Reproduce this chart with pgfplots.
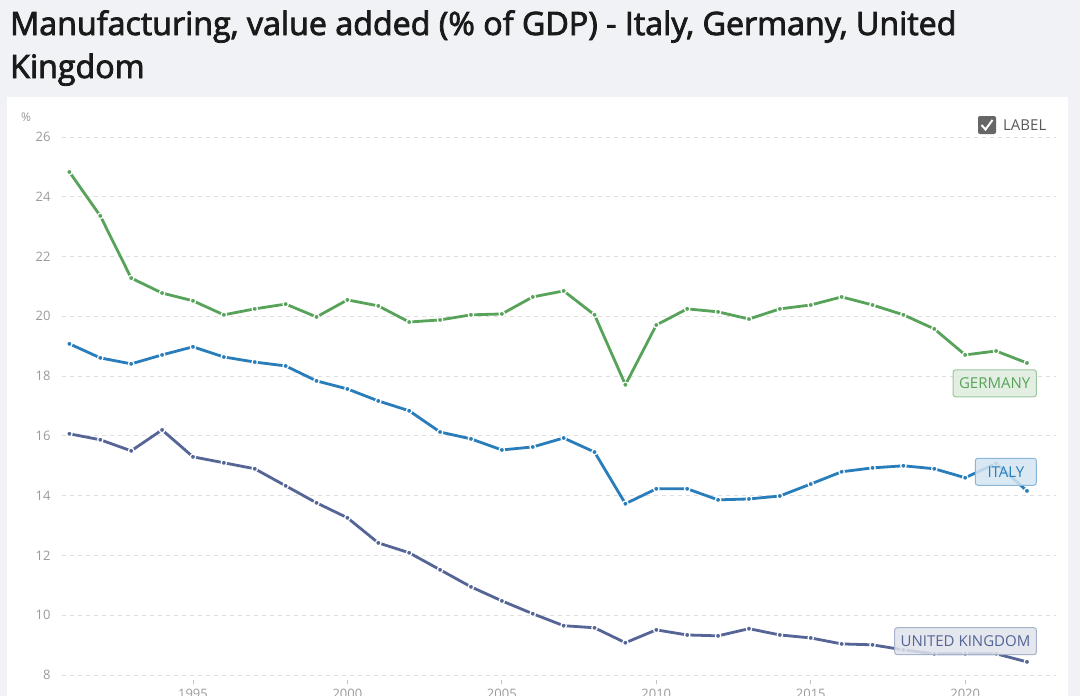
\documentclass[border=0pt]{standalone}
\usepackage{pgfplots}
\pgfplotsset{compat=1.18}
\usepackage{fontspec}
\setmainfont{Open Sans}
\newfontfamily\titlefont{Open Sans}[FakeBold=2.5]
\definecolor{bg}{HTML}{F0F2F5}
\definecolor{titlecol}{HTML}{1A1A1A}
\definecolor{gridcol}{HTML}{DEDEDE}
\definecolor{tickcol}{HTML}{9A9A9A}
\definecolor{de}{RGB}{88,163,90}
\definecolor{it}{RGB}{40,125,186}
\definecolor{uk}{RGB}{84,101,150}

\begin{document}
\begin{tikzpicture}
\useasboundingbox (0,0) rectangle (1080pt,-696pt);
\clip (0,0) rectangle (1080pt,-696pt);
\fill[bg] (0,0) rectangle (1080pt,-696pt);
\fill[white] (7pt,-97pt) rectangle (1068pt,-700pt);
% title
\node[anchor=base west, inner sep=0, text=titlecol, font=\titlefont\fontsize{32.2}{32.2}\selectfont] at (10pt,-35pt) {Manufacturing, value added (\% of GDP) - Italy, Germany, United};
\node[anchor=base west, inner sep=0, text=titlecol, font=\titlefont\fontsize{32.2}{32.2}\selectfont] at (10pt,-78pt) {Kingdom};
% unit and label toggle
\node[anchor=base west, inner sep=0, text=tickcol, font=\fontsize{12}{12}\selectfont] at (21pt,-121pt) {\%};
\fill[black!60, rounded corners=2pt] (978pt,-116pt) rectangle (996pt,-134pt);
\draw[white, line width=2pt] (981.5pt,-125pt) -- (985.5pt,-129.5pt) -- (992.5pt,-120pt);
\node[anchor=west, inner sep=0, text=black!65, font=\fontsize{15}{15}\selectfont] at (1003pt,-125pt) {LABEL};

\begin{axis}[
  at={(62pt,-675pt)}, anchor=south west,
  scale only axis, width=994pt, height=538pt,
  xmin=1990.76, xmax=2022.94, ymin=8, ymax=26,
  axis x line*=bottom, axis y line*=left,
  axis line style={draw=none},
  xtick={1995,2000,...,2020},
  ytick={8,10,...,26},
  ymajorgrids,
  grid style={gridcol, line width=1pt, dash pattern=on 4pt off 4pt},
  y tick style={draw=none},
  x tick style={draw=tickcol!60, line width=0.8pt, yshift=-5pt},
  major tick length=4pt, tick align=outside,
  tick label style={font=\fontsize{13}{13}\selectfont, text=tickcol},
  yticklabel style={xshift=-4pt},
  xticklabel style={yshift=-7pt},
  /pgf/number format/1000 sep={},
  /pgf/number format/assume math mode=true,
  clip=false,
  every axis plot/.append style={line width=2.8pt, mark=*, mark size=2.7pt},
]
\addplot[de, mark options={draw=white, line width=1.2pt, fill=de}] coordinates {
(1991,24.83) (1992,23.36) (1993,21.28) (1994,20.78) (1995,20.52) (1996,20.05)
(1997,20.25) (1998,20.41) (1999,19.98) (2000,20.55) (2001,20.35) (2002,19.81)
(2003,19.88) (2004,20.05) (2005,20.08) (2006,20.65) (2007,20.85) (2008,20.05)
(2009,17.71) (2010,19.71) (2011,20.25) (2012,20.15) (2013,19.91) (2014,20.25)
(2015,20.38) (2016,20.65) (2017,20.38) (2018,20.05) (2019,19.58) (2020,18.71)
(2021,18.84) (2022,18.44)};
\addplot[it, mark options={draw=white, line width=1.2pt, fill=it}] coordinates {
(1991,19.08) (1992,18.61) (1993,18.41) (1994,18.71) (1995,18.98) (1996,18.64)
(1997,18.47) (1998,18.34) (1999,17.84) (2000,17.57) (2001,17.17) (2002,16.84)
(2003,16.13) (2004,15.90) (2005,15.53) (2006,15.63) (2007,15.93) (2008,15.46)
(2009,13.73) (2010,14.23) (2011,14.23) (2012,13.86) (2013,13.89) (2014,13.99)
(2015,14.39) (2016,14.80) (2017,14.93) (2018,15.00) (2019,14.90) (2020,14.60)
(2021,15.08) (2022,14.16)};
\addplot[uk, mark options={draw=white, line width=1.2pt, fill=uk}] coordinates {
(1991,16.07) (1992,15.87) (1993,15.50) (1994,16.20) (1995,15.30) (1996,15.10)
(1997,14.90) (1998,14.33) (1999,13.76) (2000,13.26) (2001,12.42) (2002,12.09)
(2003,11.52) (2004,10.95) (2005,10.48) (2006,10.05) (2007,9.65) (2008,9.58)
(2009,9.08) (2010,9.51) (2011,9.34) (2012,9.31) (2013,9.55) (2014,9.34)
(2015,9.24) (2016,9.04) (2017,9.01) (2018,8.84) (2019,8.71) (2020,8.71)
(2021,8.71) (2022,8.44)};
\coordinate (deL) at (axis cs:2022.32,17.76);
\coordinate (itL) at (axis cs:2022.32,14.80);
\coordinate (ukL) at (axis cs:2022.32,9.13);
\end{axis}
% series labels, drawn over the lines
\tikzset{lab/.style={anchor=east, rounded corners=2.5pt, fill opacity=0.85, text opacity=1,
  font=\fontsize{15}{15}\selectfont, inner xsep=6pt, minimum height=27pt, minimum width=61pt, line width=1pt}}
\node[lab, draw=de!60, fill=de!20, text=de] at (deL) {GERMANY};
\node[lab, draw=it!55, fill=it!20, text=it] at (itL) {ITALY};
\node[lab, draw=uk!50, fill=uk!18, text=uk] at (ukL) {UNITED KINGDOM};
\end{tikzpicture}
\end{document}
